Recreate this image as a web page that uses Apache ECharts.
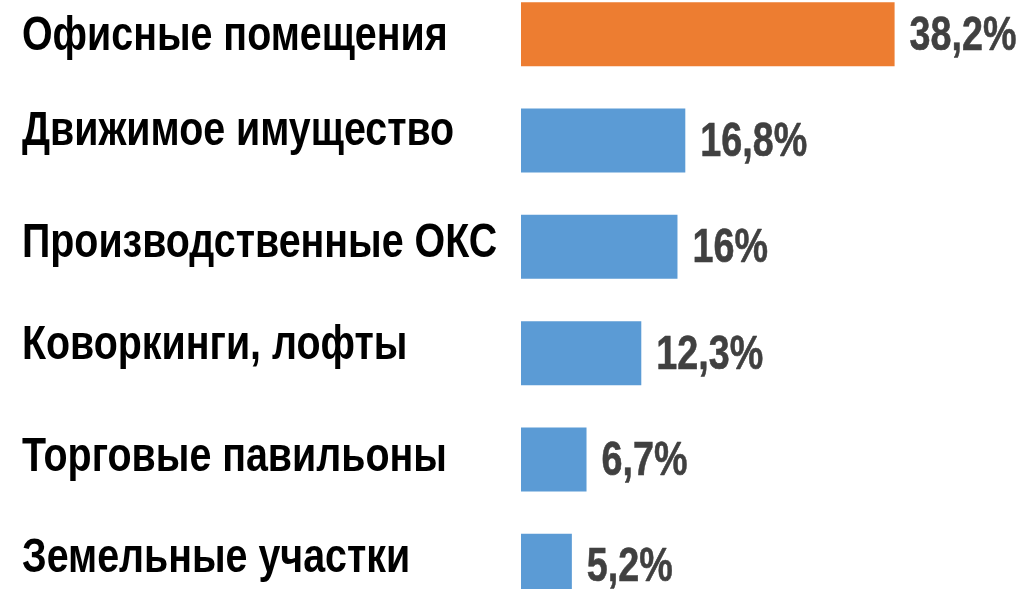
<!DOCTYPE html>
<html>
<head>
<meta charset="utf-8">
<script src="https://cdn.jsdelivr.net/npm/echarts@6/dist/echarts.min.js"></script>
<style>
  html, body { margin: 0; padding: 0; background: #fff; }
  #chart { width: 1029px; height: 589px; }
</style>
</head>
<body>
<div id="chart"></div>
<script>
// Shares of property types (percent), listed top to bottom
const categories = [
  'Офисные помещения',
  'Движимое имущество',
  'Производственные ОКС',
  'Коворкинги, лофты',
  'Торговые павильоны',
  'Земельные участки'
];
const shares = [38.2, 16.8, 16, 12.3, 6.7, 5.2];
const highlightIndex = 0;

// Typography: a bold sans squeezed horizontally to a narrow face
const FONT = '"Liberation Sans", Arial, sans-serif';
const NAME_SIZE = 48, NAME_SQUEEZE = 0.82;
const VALUE_SIZE = 49, VALUE_SQUEEZE = 0.77;
const NAME_X = 22;           // left edge of the category names
const VALUE_GAP = 15;        // gap between bar end and its value
// small per-row vertical nudges of the category names
const nameNudge = [3, -9, -3, -7, -2, -7];

const ORANGE = '#ED7D31';
const BLUE = '#5B9BD5';

const fmtPct = v => String(v).replace('.', ',') + '%';

const chart = echarts.init(document.getElementById('chart'));
chart.setOption({
  animation: false,
  grid: {
    left: 521, right: 19, top: -19, bottom: -30,
    containLabel: false,
    outerBoundsMode: 'none'
  },
  xAxis: { type: 'value', min: 0, max: 50, show: false },
  yAxis: {
    type: 'category',
    inverse: true,
    data: categories,
    axisLine: { show: false },
    axisTick: { show: false },
    splitLine: { show: false },
    axisLabel: { show: false }
  },
  series: [
    {
      type: 'bar',
      barWidth: 64,
      data: shares.map((v, i) => ({
        value: v,
        itemStyle: { color: i === highlightIndex ? ORANGE : BLUE }
      }))
    },
    {
      // category names and value labels, placed through the axes
      type: 'custom',
      silent: true,
      data: shares.map((v, i) => [v, i]),
      encode: { x: 0, y: 1 },
      renderItem: (params, api) => {
        const v = api.value(0);
        const i = api.value(1);
        const end = api.coord([v, i]);
        return {
          type: 'group',
          children: [
            {
              type: 'text',
              x: NAME_X,
              y: end[1] + nameNudge[i],
              scaleX: NAME_SQUEEZE,
              style: {
                text: categories[i],
                font: 'bold ' + NAME_SIZE + 'px ' + FONT,
                fill: '#000',
                align: 'left',
                verticalAlign: 'middle'
              }
            },
            {
              type: 'text',
              x: end[0] + VALUE_GAP,
              y: end[1] + 2,
              scaleX: VALUE_SQUEEZE,
              style: {
                text: fmtPct(v),
                font: 'bold ' + VALUE_SIZE + 'px ' + FONT,
                fill: '#404040',
                stroke: '#404040',
                lineWidth: 0.6,
                align: 'left',
                verticalAlign: 'middle'
              }
            }
          ]
        };
      }
    }
  ]
});
</script>
</body>
</html>
